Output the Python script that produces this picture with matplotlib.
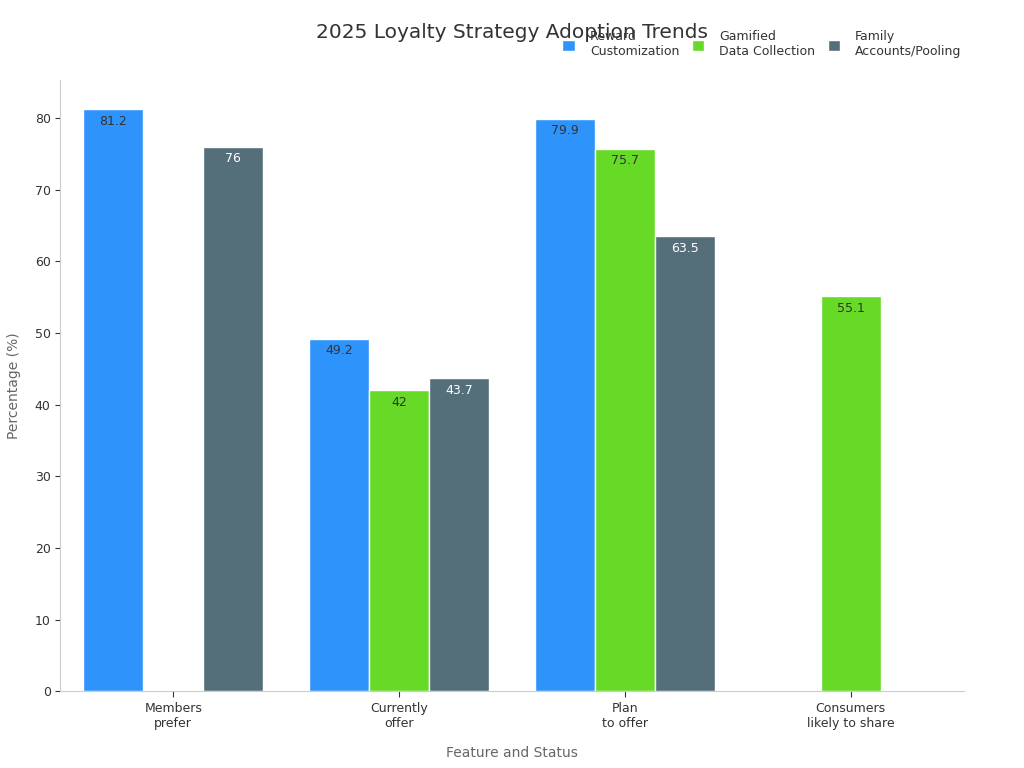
import numpy as np
import matplotlib
matplotlib.use("Agg")
import matplotlib.pyplot as plt

categories = ["Members\nprefer", "Currently\noffer", "Plan\nto offer", "Consumers\nlikely to share"]
series_names = ["Reward\nCustomization", "Gamified\nData Collection", "Family\nAccounts/Pooling"]
reward = [81.2, 49.2, 79.9, np.nan]
gamified = [np.nan, 42.0, 75.7, 55.1]
family = [76.0, 43.7, 63.5, np.nan]
colors = ["#2E93FA", "#66DA26", "#546E7A"]
label_colors = ["#333333", "#333333", "#ffffff"]

fig, ax = plt.subplots(figsize=(10.24, 7.68), dpi=100)
fig.subplots_adjust(left=0.059, right=0.941, top=0.896, bottom=0.1)

x = np.arange(len(categories))
width = 0.266
all_series = [reward, gamified, family]
for i, (vals, name) in enumerate(zip(all_series, series_names)):
    pos = x + (i - 1) * width
    bars = ax.bar(pos, vals, width, color=colors[i], edgecolor="white", linewidth=1, label=name)
    for xp, v in zip(pos, vals):
        if np.isnan(v):
            continue
        ax.text(xp, v - 0.8, f"{v:g}", ha="center", va="top", fontsize=9, color=label_colors[i])

ax.set_xlim(-0.5, 3.5)
ax.set_ylim(0, 85.3)
ax.set_xticks(x)
ax.set_xticklabels(categories, fontsize=9, color="#333333")
ax.set_yticks(range(0, 81, 10))
ax.tick_params(axis="y", labelsize=9, colors="#333333")
ax.tick_params(axis="x", colors="#333333", length=4)
for s in ["top", "right"]:
    ax.spines[s].set_visible(False)
for s in ["left", "bottom"]:
    ax.spines[s].set_color("#cccccc")

ax.set_xlabel("Feature and Status", fontsize=10, color="#666666", labelpad=12)
ax.set_ylabel("Percentage (%)", fontsize=10, color="#666666", labelpad=10)
fig.suptitle("2025 Loyalty Strategy Adoption Trends", fontsize=14.5, color="#333333", x=0.5, y=0.97)

leg = ax.legend(loc="upper right", bbox_to_anchor=(0.95, 0.975), bbox_transform=fig.transFigure,
                ncol=3, frameon=False, fontsize=9, handlelength=1.0, handleheight=1.0,
                columnspacing=1.0, handletextpad=1.2)
for t in leg.get_texts():
    t.set_color("#333333")

fig.savefig("out.png", dpi=100)
